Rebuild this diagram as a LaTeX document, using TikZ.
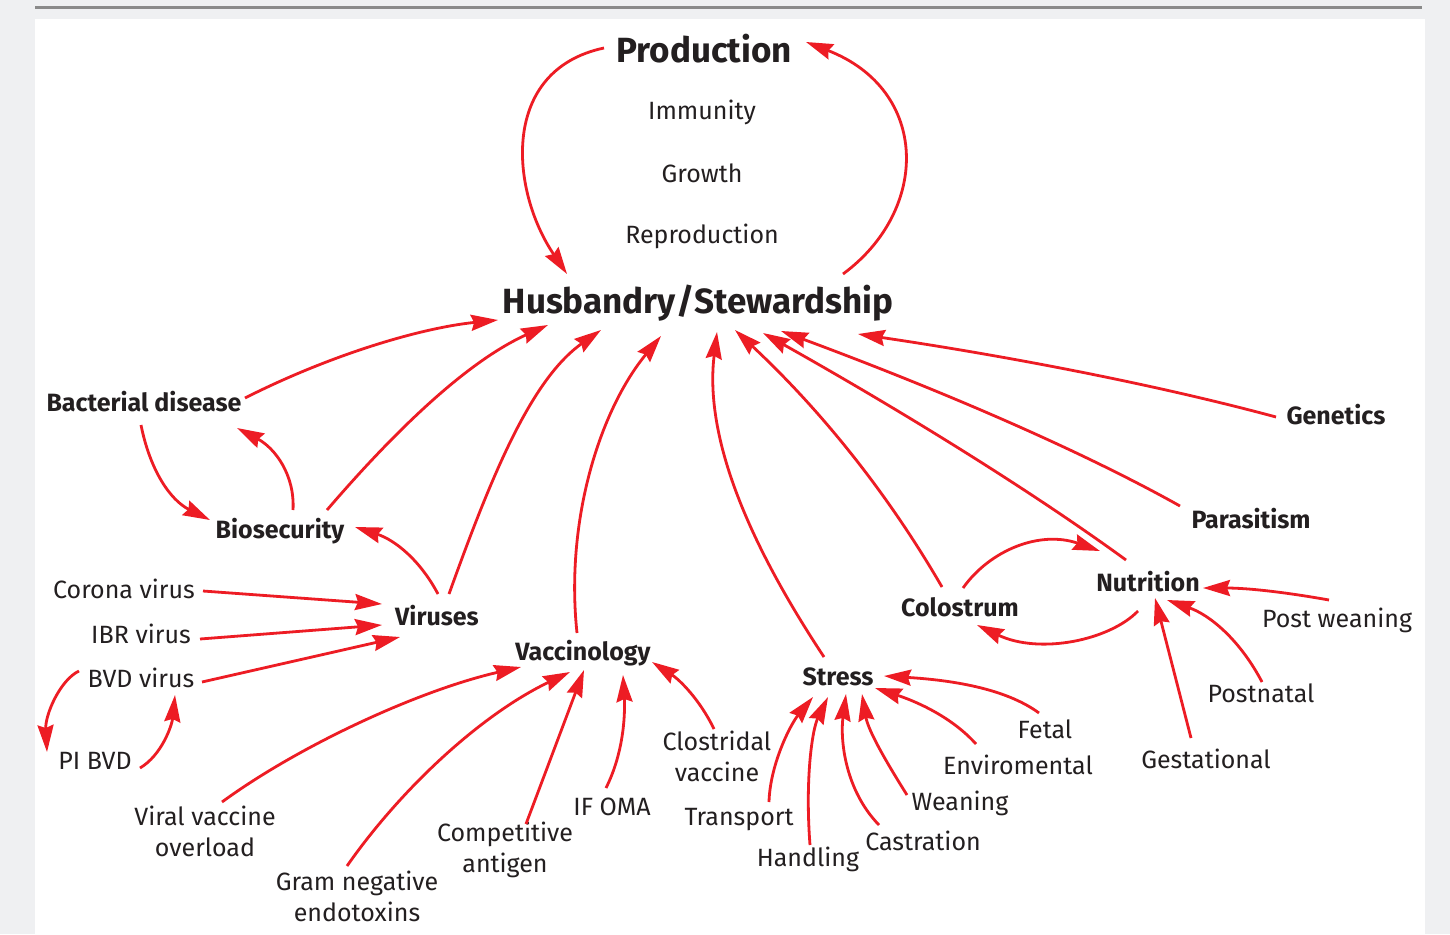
\documentclass[tikz,border=0pt]{standalone}
\usepackage{fontspec}
\setmainfont{Fira Sans}
\usetikzlibrary{arrows.meta,calc}
\definecolor{arr}{HTML}{ED1C24}
\definecolor{txt}{HTML}{231F20}
\definecolor{bgc}{HTML}{EFF0F2}
\definecolor{rulec}{HTML}{8A8A8A}
\begin{document}
\begin{tikzpicture}[x=1bp,y=-1bp,
 lbl/.style={font=\fontsize{25bp}{31bp}\selectfont, text=txt, inner sep=0pt, align=center},
 hd/.style={font=\fontsize{25bp}{31bp}\selectfont\bfseries, text=txt, inner sep=0pt},
 big/.style={font=\fontsize{35bp}{40bp}\selectfont\bfseries, text=txt, inner sep=0pt},
 ar/.style={draw=arr, line width=2.8bp, -{Stealth[length=27bp,width=16bp,inset=3bp]}}]

\fill[bgc] (0,0) rectangle (1450,934);
\fill[white] (35,19) rectangle (1425,934);
\draw[rulec, line width=3bp] (35,7) -- (1422,7);

% nodes
\node[big] (prod) at (704,49) {Production};
\node[lbl] (imm) at (702,112) {Immunity};
\node[lbl] (gro) at (702,173) {Growth};
\node[lbl] (rep) at (702,236) {Reproduction};
\node[big] (hus) at (698,303) {Husbandry/Stewardship};
\node[hd] (bact) at (144,402) {Bacterial disease};
\node[hd] (bios) at (280,531) {Biosecurity};
\node[hd] (vir) at (437,616) {Viruses};
\node[hd] (vacc) at (583,653) {Vaccinology};
\node[hd] (gen) at (1336,415) {Genetics};
\node[hd] (para) at (1251,519) {Parasitism};
\node[hd] (nutr) at (1148,582) {Nutrition};
\node[hd] (colo) at (960,607) {Colostrum};
\node[hd] (stress) at (838,677) {Stress};
\node[lbl] (corona) at (124,589) {Corona virus};
\node[lbl] (ibr) at (141,634) {IBR virus};
\node[lbl] (bvd) at (141,678) {BVD virus};
\node[lbl] (pibvd) at (95,761) {PI BVD};
\node[lbl] (vvo) at (205,831) {Viral vaccine\\overload};
\node[lbl] (gram) at (357,896) {Gram negative\\endotoxins};
\node[lbl] (comp) at (505,850) {Competitive\\antigen};
\node[lbl] (ifoma) at (612,807) {IF OMA};
\node[lbl] (clos) at (717,756) {Clostridal\\vaccine};
\node[lbl] (trans) at (739,820) {Transport};
\node[lbl] (hand) at (808,859) {Handling};
\node[lbl] (cast) at (923,841) {Castration};
\node[lbl] (wean) at (960,803) {Weaning};
\node[lbl] (env) at (1018,765) {Enviromental};
\node[lbl] (fetal) at (1045,729) {Fetal};
\node[lbl] (gest) at (1206,759) {Gestational};
\node[lbl] (postn) at (1261,693) {Postnatal};
\node[lbl] (postw) at (1337,620) {Post weaning};

% production loop
\draw[ar] ($(prod)+(-100,-1)$) .. controls (500,70) and (510,190) .. ($(hus)+(-131,-29)$);
\draw[ar] ($(hus)+(145,-29)$) .. controls (930,210) and (930,90) .. ($(prod)+(102,-7)$);

% into husbandry
\draw[ar] ($(bact)+(101,-4)$) .. controls (330,355) and (420,328) .. ($(hus)+(-200,17)$);
\draw[ar] ($(bios)+(47,-21)$) .. controls (400,425) and (470,360) .. ($(hus)+(-150,22)$);
\draw[ar] ($(vir)+(12,-22)$) .. controls (490,480) and (530,380) .. ($(hus)+(-97,27)$);
\draw[ar] ($(vacc)+(-6,-20)$) .. controls (565,520) and (600,410) .. ($(hus)+(-37,33)$);
\draw[ar] ($(stress)+(-14,-20)$) .. controls (740,530) and (705,430) .. ($(hus)+(19,29)$);
\draw[ar] ($(colo)+(-18,-20)$) .. controls (880,480) and (810,400) .. ($(hus)+(37,27)$);
\draw[ar] ($(nutr)+(-22,-22)$) .. controls (1030,490) and (900,410) .. ($(hus)+(65,30)$);
\draw[ar] ($(para)+(-71,-13)$) .. controls (1080,450) and (940,390) .. ($(hus)+(83,28)$);
\draw[ar] ($(gen)+(-60,2)$) .. controls (1150,383) and (1000,355) .. ($(hus)+(160,31)$);

% left cluster
\draw[ar] ($(bact)+(-3,23)$) .. controls (150,470) and (170,500) .. ($(bios)+(-70,-11)$);
\draw[ar] ($(bios)+(13,-21)$) .. controls (295,475) and (275,448) .. ($(bact)+(93,26)$);
\draw[ar] ($(vir)+(1,-22)$) .. controls (420,560) and (395,540) .. ($(bios)+(75,-4)$);
\draw[ar] ($(corona)+(79,2)$) -- ($(vir)+(-55,-12)$);
\draw[ar] ($(ibr)+(59,5)$) -- ($(vir)+(-55,9)$);
\draw[ar] ($(bvd)+(61,4)$) -- ($(vir)+(-37,21)$);
\draw[ar] ($(bvd)+(-62,-7)$) .. controls (60,680) and (45,715) .. ($(pibvd)+(-48,-9)$);
\draw[ar] ($(pibvd)+(45,7)$) .. controls (162,755) and (172,725) .. ($(bvd)+(34,17)$);

% vaccinology
\draw[ar] ($(vvo)+(17,-29)$) .. controls (300,745) and (420,690) .. ($(vacc)+(-62,14)$);
\draw[ar] ($(gram)+(-10,-30)$) .. controls (400,790) and (480,715) .. ($(vacc)+(-13,19)$);
\draw[ar] ($(comp)+(21,-26)$) -- ($(vacc)+(1,17)$);
\draw[ar] ($(ifoma)+(-6,-19)$) .. controls (625,750) and (625,710) .. ($(vacc)+(40,22)$);
\draw[ar] ($(clos)+(-3,-27)$) .. controls (700,700) and (680,680) .. ($(vacc)+(69,9)$);

% stress
\draw[ar] ($(trans)+(30,-18)$) .. controls (770,765) and (790,725) .. ($(stress)+(-25,20)$);
\draw[ar] ($(hand)+(2,-14)$) .. controls (805,780) and (812,730) .. ($(stress)+(-10,20)$);
\draw[ar] ($(cast)+(-44,-16)$) .. controls (845,790) and (840,740) .. ($(stress)+(8,17)$);
\draw[ar] ($(wean)+(-53,-8)$) .. controls (885,760) and (868,730) .. ($(stress)+(24,17)$);
\draw[ar] ($(env)+(-42,-21)$) .. controls (950,715) and (912,700) .. ($(stress)+(37,11)$);
\draw[ar] ($(fetal)+(-6,-16)$) .. controls (1005,688) and (950,680) .. ($(stress)+(46,-1)$);

% nutrition
\draw[ar] ($(colo)+(3,-19)$) .. controls (990,550) and (1040,530) .. ($(nutr)+(-48,-31)$);
\draw[ar] ($(nutr)+(-10,29)$) .. controls (1110,640) and (1040,655) .. ($(colo)+(17,18)$);
\draw[ar] ($(postw)+(-8,-20)$) .. controls (1290,593) and (1250,588) .. ($(nutr)+(55,6)$);
\draw[ar] ($(postn)+(1,-11)$) .. controls (1240,640) and (1210,615) .. ($(nutr)+(19,18)$);
\draw[ar] ($(gest)+(-15,-21)$) -- ($(nutr)+(7,16)$);
\end{tikzpicture}
\end{document}
